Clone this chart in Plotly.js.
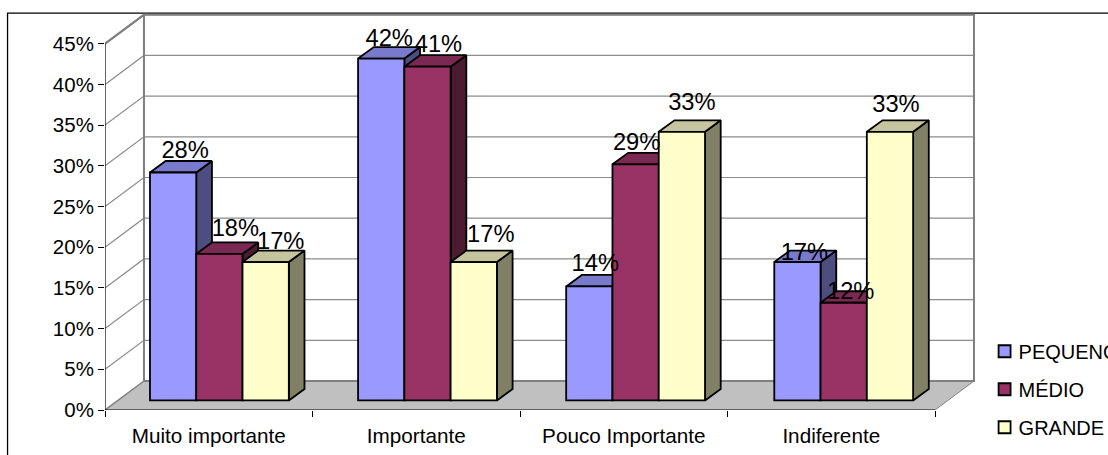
<!DOCTYPE html>
<html>
<head>
<meta charset="utf-8">
<script src="https://cdn.plot.ly/plotly-3.0.1.min.js"></script>
<style>html,body{margin:0;padding:0;background:#fff;overflow:hidden}</style>
</head>
<body>
<div id="chart" style="width:1108px;height:455px"></div>
<script>
// Survey shares per importance level and company size
const categories = ['Muito importante', 'Importante', 'Pouco Importante', 'Indiferente'];
const seriesNames = ['PEQUENO', 'MÉDIO', 'GRANDE'];
const pequeno = [28, 42, 14, 17];
const medio = [18, 41, 29, 12];
const grande = [17, 17, 33, 33];
const yTicks = [0, 5, 10, 15, 20, 25, 30, 35, 40, 45];

// Per-label placement tweaks, in pixels
const nudgeX = [[12, 8, 6, 7], [16, 11, 1, 7], [15, 17, 10, 6]];
const nudgeY = [[-3, -5, -2, -15], [0, -3, -3, -14], [-4, 3, 4, 2]];

const faces = [
  {front: '#9999FF', top: '#7A7ACC', side: '#4D4D80'},
  {front: '#993366', top: '#7A2952', side: '#4D1A33'},
  {front: '#FFFFCC', top: '#C4C49E', side: '#808066'}
];

// Pixel scale of the plot
const pxX = 207.6, pxY = 8.147;
const plotL = 105, plotBottom = 410.3, W = 1108, H = 455;
const xMax = 4.4, yMax = 50;

// Oblique projection of the 3D box: wall depth and bar depth in data units
const dx = 39 / pxX, dy = 29 / pxY;
const barOx = 15.7 / pxX, barOy = 11.5 / pxY;
const barW = 46.3 / pxX;
const barStart = 45 / pxX;
const barBase = 9.6 / pxY;
const groupPitch = 208.2 / pxX;

const traces = [];
const poly = (pts) => ({x: pts.map(p => p[0]), y: pts.map(p => p[1])});

function helper(xs, ys, opts) {
  return Object.assign({
    type: 'scatter', mode: 'lines', x: xs, y: ys, showlegend: false,
    hoverinfo: 'skip', cliponaxis: false
  }, opts);
}

// Floor and side wall
const floor = poly([[0, 0], [4, 0], [4 + dx, dy], [dx, dy], [0, 0]]);
traces.push(helper(floor.x, floor.y, {fill: 'toself', fillcolor: '#C0C0C0', line: {width: 0}}));

// Gridlines run along the side wall and across the back wall
const gx = [], gy = [];
yTicks.slice(1).forEach(v => {
  gx.push(0, dx, 4 + dx, null);
  gy.push(v, v + dy, v + dy, null);
});
traces.push(helper(gx, gy, {line: {color: '#8C8C8C', width: 1.2}}));

// Wall frame
traces.push(helper(
  [0, dx, 4 + dx, 4 + dx, dx, dx, null, 0, dx],
  [45, 45 + dy, 45 + dy, dy, dy, 45 + dy, null, 45, 45 + dy],
  {line: {color: '#808080', width: 2}}
));
traces.push(helper([4, 4 + dx], [0, dy], {line: {color: '#808080', width: 1}}));
traces.push(helper([0, dx], [0, dy], {line: {color: '#808080', width: 1.5}}));

// Axis lines
traces.push(helper([0, 0, 4], [45, 0, 0], {line: {color: '#000', width: 1.2}}));

// Bars: fronts go through bar traces, tops and sides are projected from the same values
[pequeno, medio, grande].forEach((vals, j) => {
  const sx = [], sy = [], tx = [], ty = [];
  const xs = vals.map((v, i) => i * groupPitch + barStart + j * barW);
  vals.forEach((v, i) => {
    const x0 = xs[i], x1 = x0 + barW, b = barBase, t = barBase + v;
    sx.push(x1, x1, x1 + barOx, x1 + barOx, x1, null);
    sy.push(b, t, t + barOy, b + barOy, b, null);
    tx.push(x0, x1, x1 + barOx, x0 + barOx, x0, null);
    ty.push(t, t, t + barOy, t + barOy, t, null);
  });
  const z = 2 * j + 1;
  const edge = {color: '#000', width: 1.8};
  traces.push(helper(sx, sy, {fill: 'toself', fillcolor: faces[j].side, line: edge, zorder: z}));
  traces.push(helper(tx, ty, {fill: 'toself', fillcolor: faces[j].top, line: edge, zorder: z}));
  traces.push({
    type: 'bar', name: seriesNames[j], x: xs, y: vals, base: barBase, width: barW, offset: 0,
    marker: {color: faces[j].front, line: {color: '#000', width: 1.8}},
    legendgroup: seriesNames[j], hoverinfo: 'skip', zorder: z + 1
  });
  // Value labels sit above everything else
  traces.push({
    type: 'scatter', mode: 'text', showlegend: false, hoverinfo: 'skip', cliponaxis: false,
    x: xs.map((x, i) => x + barW / 2 + nudgeX[j][i] / pxX),
    y: vals.map((v, i) => barBase + v + barOy + nudgeY[j][i] / pxY),
    text: vals.map(v => v + '%'),
    textposition: 'top center',
    textfont: {family: 'Liberation Sans, Arial, sans-serif', size: 23.7, color: '#000'},
    zorder: 10
  });
});

const mL = plotL, mB = H - plotBottom;
const plotW = xMax * pxX, plotH = yMax * pxY;
const mR = W - mL - plotW, mT = H - mB - plotH;
const px2paperX = p => (p - mL) / plotW;
const px2paperY = p => (plotBottom - p) / plotH;

const layout = {
  width: W, height: H,
  margin: {l: mL, r: mR, t: mT, b: mB, pad: 0, autoexpand: false},
  paper_bgcolor: '#fff', plot_bgcolor: 'rgba(0,0,0,0)',
  font: {family: 'Liberation Sans, Arial, sans-serif', size: 20.5, color: '#000'},
  barmode: 'overlay',
  xaxis: {
    range: [0, xMax], showgrid: false, zeroline: false, showline: false,
    tickmode: 'array', tickvals: categories.map((c, i) => i + 0.5), ticktext: categories,
    ticks: '', ticklen: 0, ticklabelstandoff: 11,
    minor: {tickmode: 'array', tickvals: [0, 1, 2, 3, 4], ticks: 'outside', ticklen: 6, tickcolor: '#000', tickwidth: 1.2, showgrid: false},
    tickfont: {size: 20.7}, tickangle: 0
  },
  yaxis: {
    range: [0, yMax], showgrid: false, zeroline: false, showline: false,
    tickmode: 'array', tickvals: yTicks, ticktext: yTicks.map(v => v + '%'),
    ticks: 'outside', ticklen: 6, tickcolor: '#000', tickwidth: 1.2,
    tickfont: {size: 20.5}
  },
  legend: {
    x: px2paperX(979), xanchor: 'left', y: px2paperY(332), yanchor: 'top',
    font: {size: 20}, bgcolor: 'rgba(0,0,0,0)', borderwidth: 0,
    tracegroupgap: 9, itemclick: false, itemdoubleclick: false
  },
  shapes: [{
    type: 'rect', xref: 'paper', yref: 'paper', layer: 'below',
    x0: px2paperX(7.5), x1: px2paperX(1140), y0: px2paperY(480), y1: px2paperY(13),
    line: {color: '#000', width: 1.3}, fillcolor: '#fff'
  }]
};

Plotly.newPlot('chart', traces, layout, {displayModeBar: false}).then(() => {
  // Pull the legend swatches closer to their labels
  document.querySelectorAll('.legend .legendsymbols').forEach(g => {
    g.setAttribute('transform', 'translate(6,0)');
  });
});
</script>
</body>
</html>
